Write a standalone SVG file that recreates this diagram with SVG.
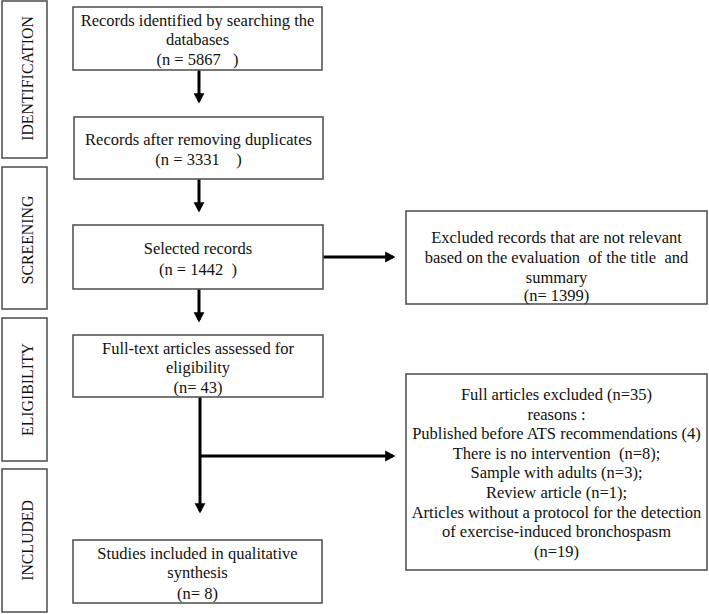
<svg xmlns="http://www.w3.org/2000/svg" width="709" height="614" viewBox="0 0 709 614">
<style>
.box{fill:#fff;stroke:#555;stroke-width:1.6}
.t{font-family:"Liberation Serif","Times New Roman",serif;font-size:16.5px;fill:#111;text-anchor:middle;white-space:pre}
.s{font-family:"Liberation Serif","Times New Roman",serif;font-size:15.8px;fill:#111;text-anchor:middle}
.c{stroke:#000;stroke-width:3;fill:none}
</style>
<defs>
<marker id="ah" markerWidth="4" markerHeight="4" refX="2.6" refY="2" orient="auto" markerUnits="strokeWidth">
<path d="M0,0.2 L3.4,2 L0,3.8 Z" fill="#000"/>
</marker>
</defs>
<rect width="709" height="614" fill="#fff"/>
<g id="stage-identification">
<rect class="box" x="2" y="1" width="45" height="157"/>
<text class="s" transform="translate(32.5,78.5) rotate(-90)">IDENTIFICATION</text>
</g>
<g id="stage-screening">
<rect class="box" x="2" y="167" width="45" height="142"/>
<text class="s" transform="translate(32.5,240) rotate(-90)">SCREENING</text>
</g>
<g id="stage-eligibility">
<rect class="box" x="2" y="318" width="45" height="143"/>
<text class="s" transform="translate(32.5,389.5) rotate(-90)">ELIGIBILITY</text>
</g>
<g id="stage-included">
<rect class="box" x="2" y="469" width="45" height="143"/>
<text class="s" transform="translate(32.5,540.5) rotate(-90)">INCLUDED</text>
</g>
<g id="connectors">
<line class="c" x1="199" y1="70" x2="199" y2="101" marker-end="url(#ah)"/>
<line class="c" x1="199" y1="179" x2="199" y2="210" marker-end="url(#ah)"/>
<line class="c" x1="199" y1="289" x2="199" y2="320" marker-end="url(#ah)"/>
<line class="c" x1="200" y1="397" x2="200" y2="511" marker-end="url(#ah)"/>
<line class="c" x1="323" y1="257" x2="393" y2="257" marker-end="url(#ah)"/>
<line class="c" x1="200" y1="456" x2="393" y2="456" marker-end="url(#ah)"/>
</g>
<g id="n1">
<rect class="box" x="73" y="7" width="249" height="63"/>
<text class="t" x="197.5" y="26">Records identified by searching the</text>
<text class="t" x="197.5" y="45">databases</text>
<text class="t" x="197.5" y="65" xml:space="preserve">(n = 5867   )</text>
</g>
<g id="n2">
<rect class="box" x="74" y="117" width="249" height="62"/>
<text class="t" x="198.5" y="145">Records after removing duplicates</text>
<text class="t" x="198.5" y="165" xml:space="preserve">(n = 3331    )</text>
</g>
<g id="n3">
<rect class="box" x="73" y="225" width="250" height="64"/>
<text class="t" x="198" y="254">Selected records</text>
<text class="t" x="198" y="275" xml:space="preserve">(n = 1442  )</text>
</g>
<g id="n4">
<rect class="box" x="73" y="335" width="250" height="62"/>
<text class="t" x="198" y="354">Full-text articles assessed for</text>
<text class="t" x="198" y="373">eligibility</text>
<text class="t" x="198" y="393">(n= 43)</text>
</g>
<g id="n5">
<rect class="box" x="73" y="540" width="249" height="63"/>
<text class="t" x="197.5" y="559">Studies included in qualitative</text>
<text class="t" x="197.5" y="578">synthesis</text>
<text class="t" x="197.5" y="599">(n= 8)</text>
</g>
<g id="x1">
<rect class="box" x="406" y="211" width="301" height="93"/>
<text class="t" x="556.5" y="243">Excluded records that are not relevant</text>
<text class="t" x="556.5" y="263" xml:space="preserve">based on the evaluation  of the title  and</text>
<text class="t" x="556.5" y="283">summary</text>
<text class="t" x="556.5" y="301">(n= 1399)</text>
</g>
<g id="x2">
<rect class="box" x="406" y="374" width="301" height="196"/>
<text class="t" x="556.5" y="400">Full articles excluded (n=35)</text>
<text class="t" x="556.5" y="419.6">reasons :</text>
<text class="t" x="556.5" y="439.2">Published before ATS recommendations (4)</text>
<text class="t" x="556.5" y="458.8" xml:space="preserve">There is no intervention  (n=8);</text>
<text class="t" x="556.5" y="478.4">Sample with adults (n=3);</text>
<text class="t" x="556.5" y="498">Review article (n=1);</text>
<text class="t" x="556.5" y="517.6">Articles without a protocol for the detection</text>
<text class="t" x="556.5" y="537.2">of exercise-induced bronchospasm</text>
<text class="t" x="556.5" y="556.8">(n=19)</text>
</g>
</svg>
